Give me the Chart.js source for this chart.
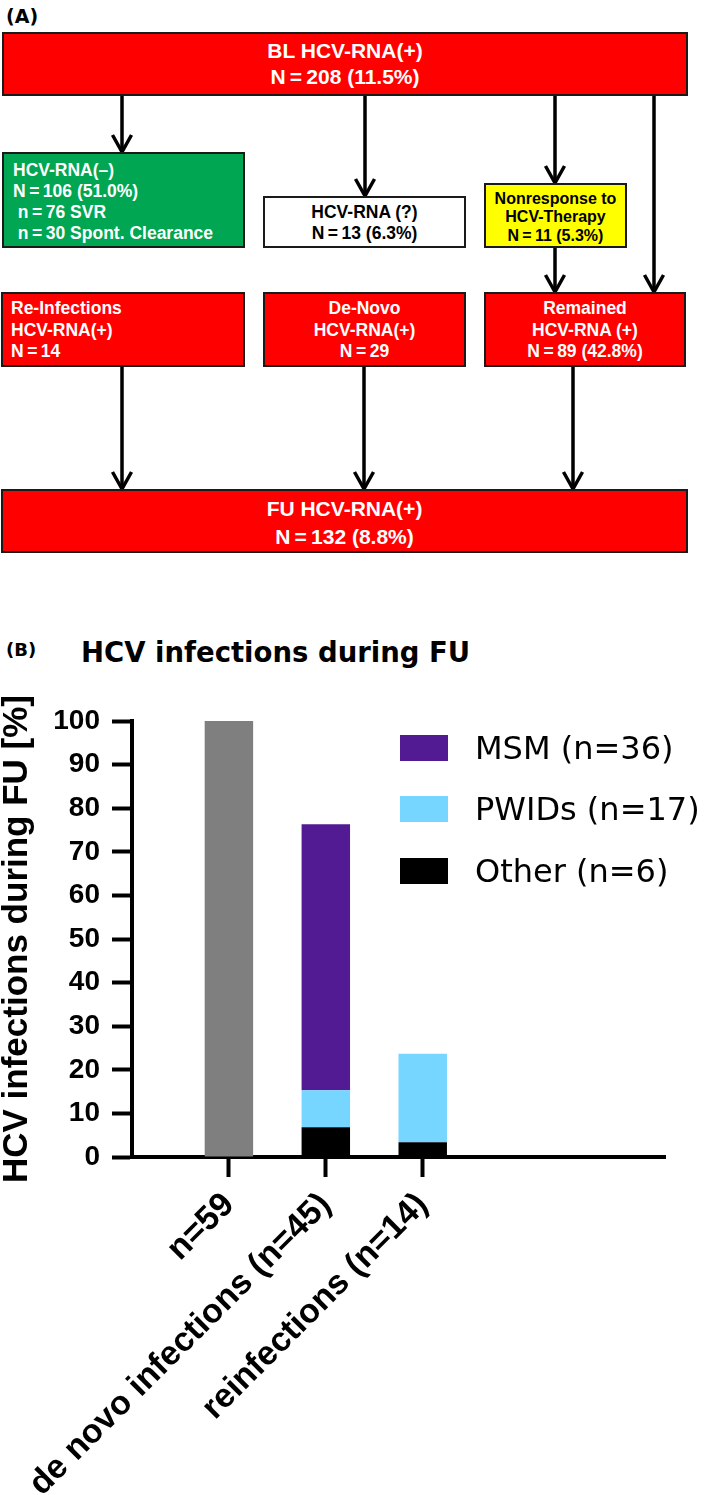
<!DOCTYPE html>
<html>
<head>
<meta charset="utf-8">
<script src="https://cdn.jsdelivr.net/npm/chart.js@4.4.1/dist/chart.umd.min.js"></script>
<style>
  html, body { margin: 0; padding: 0; background: #fff; }
  #page { position: relative; width: 709px; height: 1495px; overflow: hidden;
          font-family: "Liberation Sans", Arial, Helvetica, sans-serif; }
  .box { position: absolute; box-sizing: border-box; border: 2px solid #1a1a1a;
         font-weight: bold; display: flex; flex-direction: column; justify-content: center; }
  .box div { white-space: pre; }
  .panel { position: absolute; font-family: "DejaVu Sans", sans-serif; font-weight: bold; color: #000; }
  #arrows { position: absolute; left: 0; top: 0; }
  #chartWrap { position: absolute; left: 0; top: 690px; width: 709px; height: 805px; }
  .leg { position: absolute; display: flex; align-items: center; font-family: "DejaVu Sans", sans-serif;
         font-size: 32px; color: #000; white-space: pre; }
  .leg span.sw { display: inline-block; width: 48px; height: 26px; margin-right: 27px; }
</style>
</head>
<body>
<div id="page">
  <div class="panel" style="left:6px;top:4px;font-size:19px;line-height:24px;">(A)</div>
  <svg id="arrows" width="709" height="600"></svg>
  <div class="panel" style="left:6px;top:638px;font-size:18px;line-height:24px;">(B)</div>
  <div class="panel" style="left:81px;top:634px;font-size:27.5px;line-height:36px;">HCV infections during FU</div>
  <div id="chartWrap"><canvas id="c"></canvas></div>
</div>
<script>
// ---------- Panel B data ----------
const categories  = ['n=59', 'de novo infections (n=45)', 'reinfections (n=14)'];
const allValues   = [100, null, null];     // all HCV infections during FU (%)
const otherValues = [null, 6.8, 3.4];      // Other (n=6)
const pwidValues  = [null, 8.5, 20.3];     // PWIDs (n=17)
const msmValues   = [null, 61.0, null];    // MSM (n=36)
const seriesLabels = { msm: 'MSM (n=36)', pwid: 'PWIDs (n=17)', other: 'Other (n=6)', all: 'All (n=59)' };
const yTickLabels = ['0', '10', '20', '30', '40', '50', '60', '70', '80', '90', '100'];
const yTitle = 'HCV infections during FU [%]';

// ---------- Panel A (flowchart) content ----------
const flowNodes = [
  { id: 'bl',       lines: ['BL HCV-RNA(+)', 'N\u2009=\u2009208 (11.5%)'] },
  { id: 'neg',      lines: ['HCV-RNA(\u2013)', 'N\u2009=\u2009106 (51.0%)', ' n\u2009=\u200976 SVR', ' n\u2009=\u200930 Spont. Clearance'] },
  { id: 'unk',      lines: ['HCV-RNA (?)', 'N\u2009=\u200913 (6.3%)'] },
  { id: 'nonresp',  lines: ['Nonresponse to', 'HCV-Therapy', 'N\u2009=\u200911 (5.3%)'] },
  { id: 'reinf',    lines: ['Re-Infections', 'HCV-RNA(+)', 'N\u2009=\u200914'] },
  { id: 'denovo',   lines: ['De-Novo', 'HCV-RNA(+)', 'N\u2009=\u200929'] },
  { id: 'remained', lines: ['Remained', 'HCV-RNA (+)', 'N\u2009=\u200989 (42.8%)'] },
  { id: 'fu',       lines: ['FU HCV-RNA(+)', 'N\u2009=\u2009132 (8.8%)'] }
];
const flowEdges = [
  ['bl', 'neg'], ['bl', 'unk'], ['bl', 'nonresp'], ['bl', 'remained'],
  ['nonresp', 'remained'], ['reinf', 'fu'], ['denovo', 'fu'], ['remained', 'fu']
];

// ---------- layout / styles ----------
const boxLayout = {
  bl:       { l: 2,   t: 32,  w: 686, h: 64, bg: '#ff0000', fg: '#fff', fs: 21,   lh: 26.5, align: 'center', pt: 0, pl: 0 },
  neg:      { l: 2,   t: 152, w: 243, h: 96, bg: '#00a651', fg: '#fff', fs: 17.5, lh: 21,   align: 'left',   pt: 4, pl: 9 },
  unk:      { l: 263, t: 196, w: 203, h: 52, bg: '#ffffff', fg: '#000', fs: 17.5, lh: 21,   align: 'center', pt: 2, pl: 0 },
  nonresp:  { l: 484, t: 183, w: 143, h: 65, bg: '#ffff00', fg: '#000', fs: 16,   lh: 18.5, align: 'center', pt: 4, pl: 0 },
  reinf:    { l: 1,   t: 292, w: 244, h: 75, bg: '#ff0000', fg: '#fff', fs: 17.5, lh: 21.5, align: 'left',   pt: 2, pl: 8 },
  denovo:   { l: 263, t: 292, w: 203, h: 75, bg: '#ff0000', fg: '#fff', fs: 17.5, lh: 21.5, align: 'center', pt: 2, pl: 0 },
  remained: { l: 484, t: 292, w: 202, h: 75, bg: '#ff0000', fg: '#fff', fs: 17.5, lh: 21.5, align: 'center', pt: 2, pl: 0 },
  fu:       { l: 1,   t: 489, w: 687, h: 64, bg: '#ff0000', fg: '#fff', fs: 21,   lh: 28,   align: 'center', pt: 4, pl: 0 }
};
const edgeX = [122, 365, 555, 654, 555, 122, 364, 573];
const colors = { all: '#7f7f7f', msm: '#531b93', pwid: '#76d6ff', other: '#000000' };
const FONT = "'Liberation Sans', Arial, Helvetica, sans-serif";

// ---------- build flowchart ----------
const page = document.getElementById('page');
flowNodes.forEach(n => {
  const L = boxLayout[n.id];
  const d = document.createElement('div');
  d.className = 'box';
  Object.assign(d.style, {
    left: L.l + 'px', top: L.t + 'px', width: L.w + 'px', height: L.h + 'px',
    background: L.bg, color: L.fg, fontSize: L.fs + 'px', lineHeight: L.lh + 'px',
    textAlign: L.align, paddingTop: L.pt + 'px', paddingLeft: L.pl + 'px'
  });
  n.lines.forEach(t => { const s = document.createElement('div'); s.textContent = t; d.appendChild(s); });
  page.appendChild(d);
});
const svg = document.getElementById('arrows');
const NS = 'http://www.w3.org/2000/svg';
flowEdges.forEach((e, i) => {
  const a = boxLayout[e[0]], b = boxLayout[e[1]];
  const x = edgeX[i], y1 = a.t + a.h - 1, y2 = b.t + 1;
  const ln = document.createElementNS(NS, 'line');
  ln.setAttribute('x1', x); ln.setAttribute('y1', y1); ln.setAttribute('x2', x); ln.setAttribute('y2', y2 - 2);
  ln.setAttribute('stroke', '#000'); ln.setAttribute('stroke-width', '3.5');
  svg.appendChild(ln);
  const pl = document.createElementNS(NS, 'polyline');
  pl.setAttribute('points', `${x - 9.5},${y2 - 18} ${x},${y2 - 1} ${x + 9.5},${y2 - 18}`);
  pl.setAttribute('fill', 'none'); pl.setAttribute('stroke', '#000'); pl.setAttribute('stroke-width', '3.5');
  svg.appendChild(pl);
});

// ---------- legend (HTML, from series) ----------
const legendOrder = ['msm', 'pwid', 'other'];
const legendTops = [735, 796, 858];
legendOrder.forEach((k, i) => {
  const d = document.createElement('div');
  d.className = 'leg';
  d.style.left = '400px';
  d.style.top = (legendTops[i] - 11) + 'px';
  d.style.height = '48px';
  const sw = document.createElement('span');
  sw.className = 'sw';
  sw.style.background = colors[k];
  d.appendChild(sw);
  const t = document.createElement('span');
  t.textContent = seriesLabels[k];
  d.appendChild(t);
  page.appendChild(d);
});

// ---------- chart ----------
const toPts = arr => arr.map((v, i) => (v === null ? null : { x: i + 1, y: v })).filter(p => p !== null);

new Chart(document.getElementById('c'), {
  type: 'bar',
  data: {
    datasets: [
      { label: seriesLabels.all,   data: toPts(allValues),   backgroundColor: colors.all },
      { label: seriesLabels.other, data: toPts(otherValues), backgroundColor: colors.other },
      { label: seriesLabels.pwid,  data: toPts(pwidValues),  backgroundColor: colors.pwid },
      { label: seriesLabels.msm,   data: toPts(msmValues),   backgroundColor: colors.msm }
    ]
  },
  options: {
    responsive: true,
    maintainAspectRatio: false,
    animation: false,
    layout: { padding: { top: 31, right: 44, left: 0, bottom: 0 } },
    datasets: { bar: { categoryPercentage: 1.0, barPercentage: 0.5, borderWidth: 0 } },
    plugins: { legend: { display: false }, tooltip: { enabled: false }, title: { display: false } },
    scales: {
      x: {
        type: 'linear',
        stacked: true,
        min: 0,
        max: 5.5,
        offset: false,
        afterBuildTicks: s => { s.ticks = categories.map((c, i) => ({ value: i + 1 })); },
        afterFit: s => { s.height = 338; },
        grid: { display: true, offset: false, drawOnChartArea: false, drawTicks: true,
                tickLength: 20, tickWidth: 4, tickColor: '#000' },
        border: { display: true, width: 4, color: '#000' },
        ticks: {
          autoSkip: false, minRotation: 45, maxRotation: 45, padding: 8, color: '#000',
          font: { family: FONT, size: 34, weight: 'bold', lineHeight: 1.2 },
          callback: (v, i) => categories[i]
        }
      },
      y: {
        type: 'linear',
        stacked: true,
        min: 0,
        max: 100,
        afterBuildTicks: s => { s.ticks = yTickLabels.map(t => ({ value: Number(t) })); },
        afterFit: s => { s.width = 132; },
        grid: { display: true, drawOnChartArea: false, drawTicks: true,
                tickLength: 20, tickWidth: 4, tickColor: '#000' },
        border: { display: true, width: 4, color: '#000' },
        ticks: {
          padding: 12, color: '#000',
          font: { family: FONT, size: 28, weight: 'bold' },
          callback: (v, i) => yTickLabels[i]
        },
        title: {
          display: true, text: yTitle, color: '#000', padding: 0,
          font: { family: FONT, size: 35, weight: 'bold', lineHeight: 1.0 }
        }
      }
    }
  }
});
</script>
</body>
</html>
